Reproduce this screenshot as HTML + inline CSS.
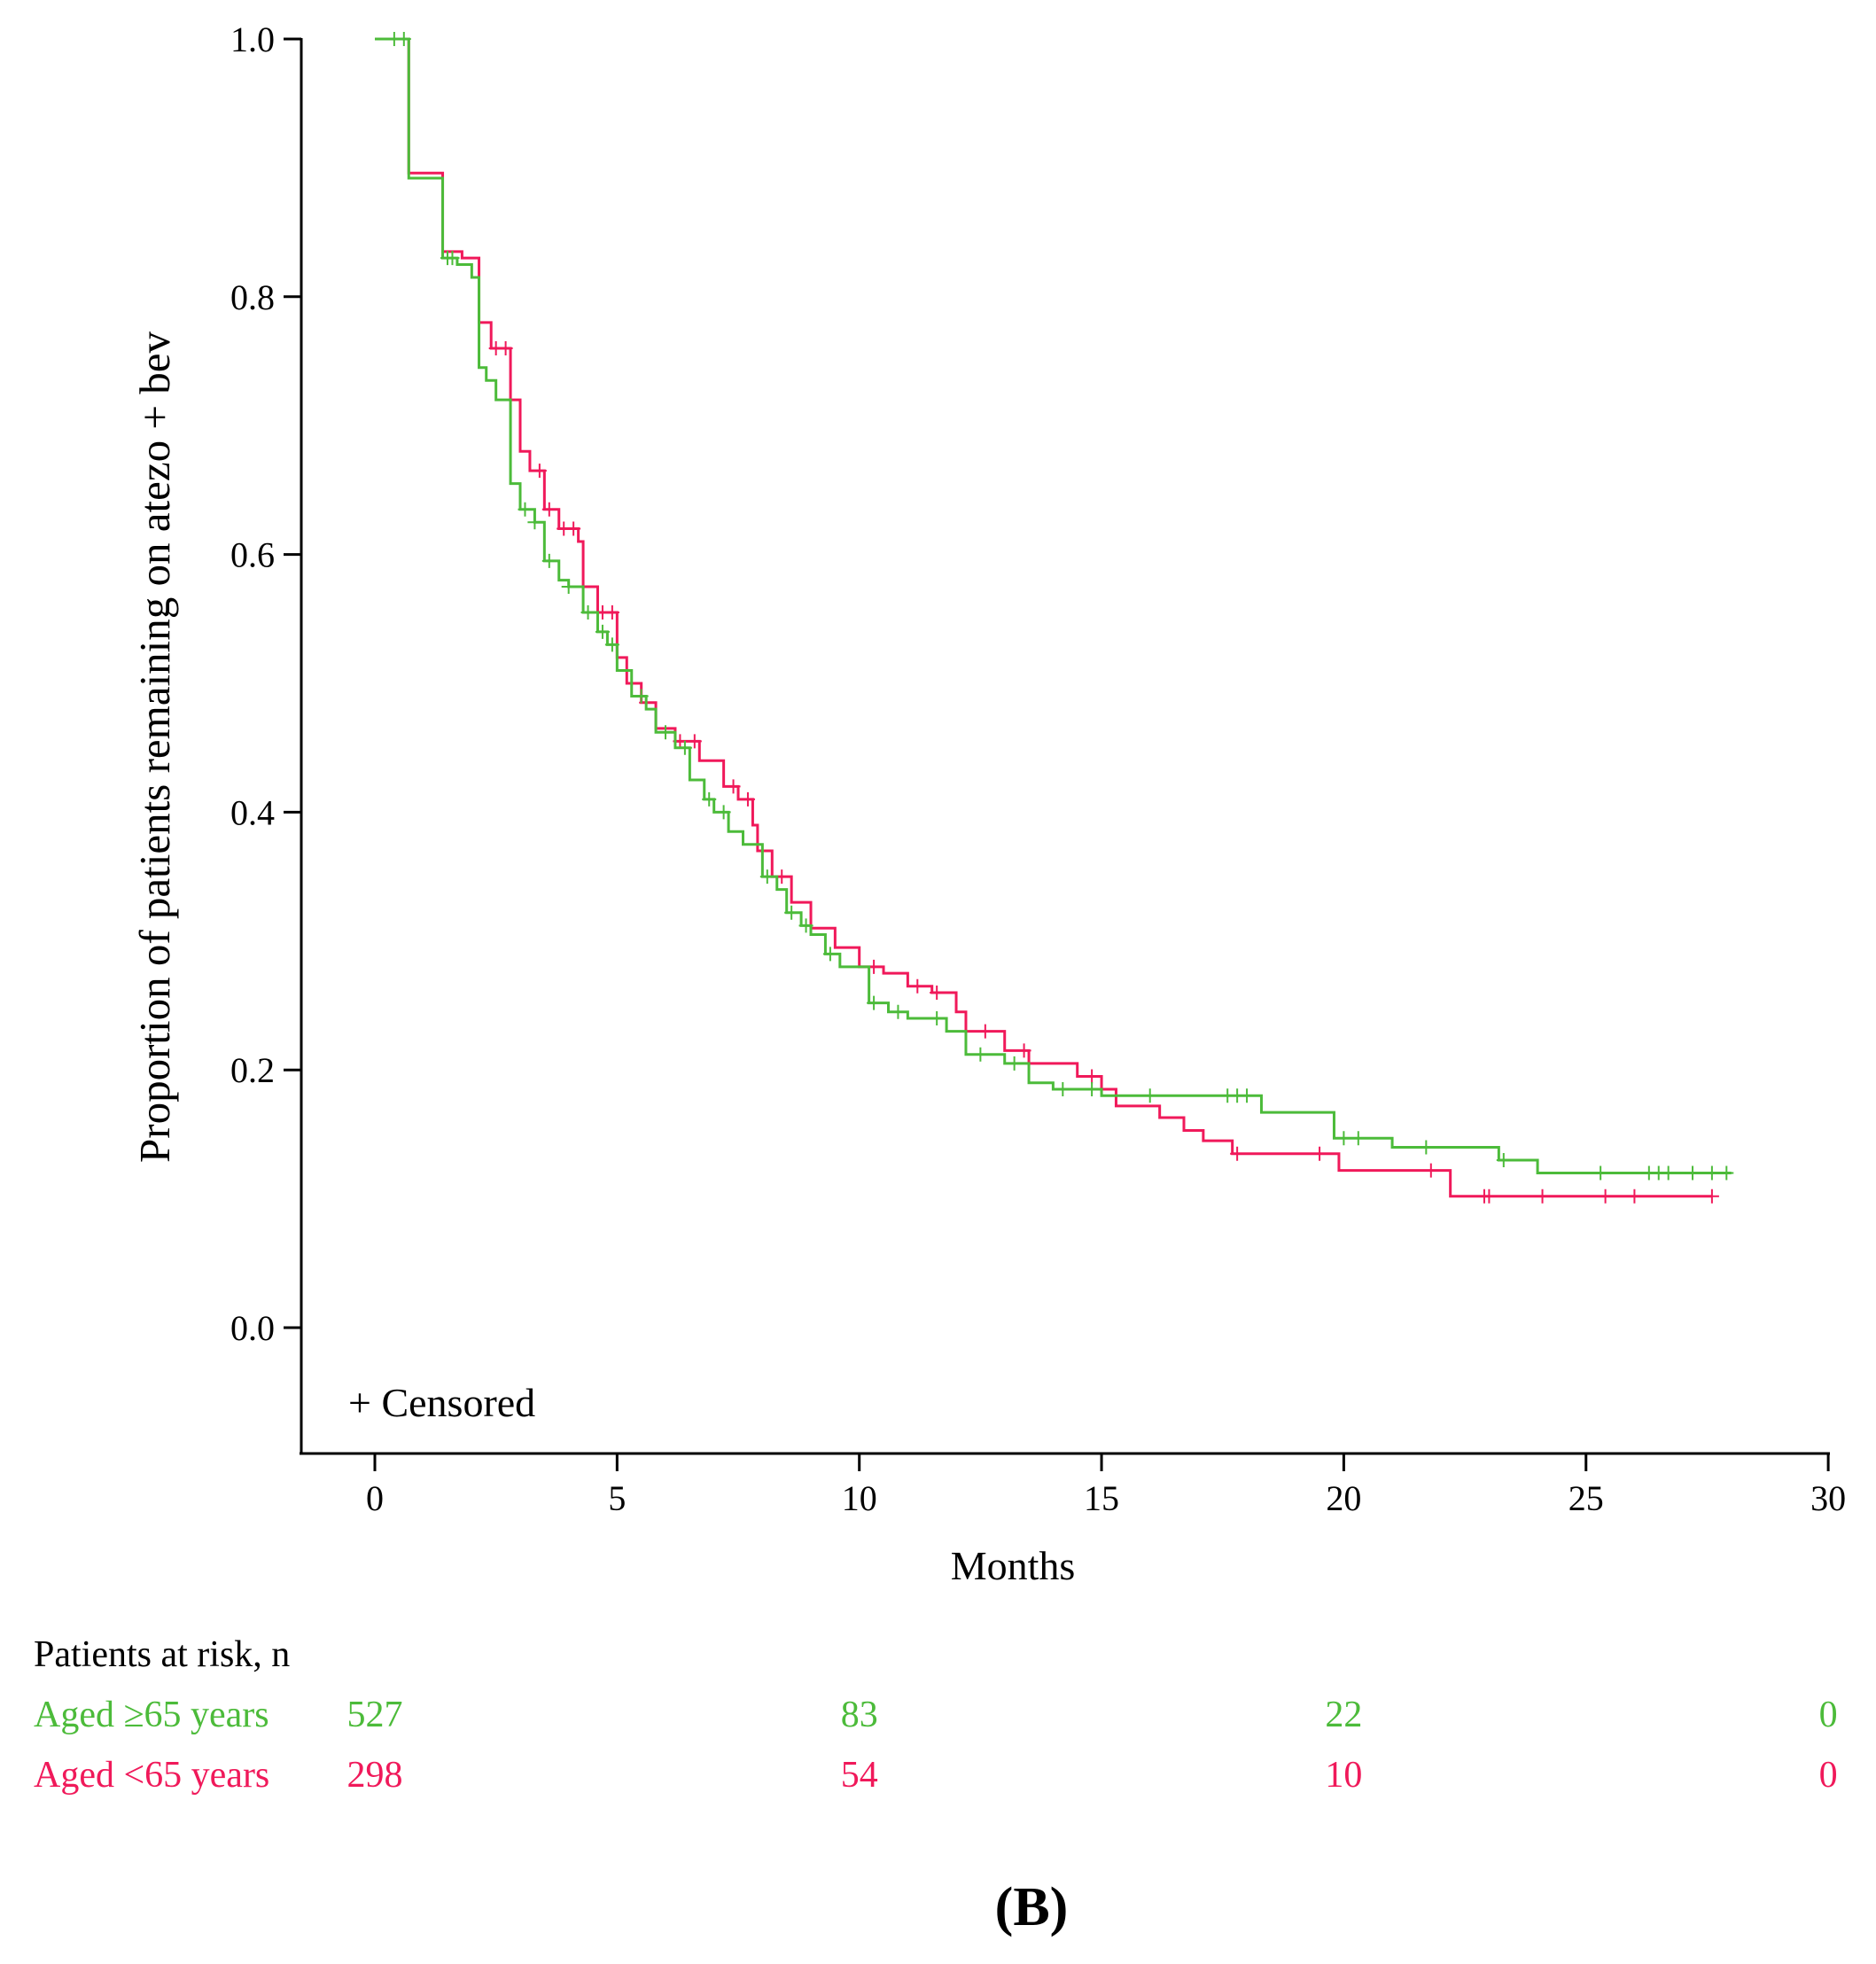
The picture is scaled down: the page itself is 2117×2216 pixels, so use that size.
<!DOCTYPE html>
<html><head><meta charset="utf-8"><style>
body{margin:0;background:#fff;}
svg{display:block;font-family:"Liberation Serif",serif;}
</style></head><body>
<svg id="chart" width="2117" height="2216">
<g id="axes"></g><g id="curves"></g>
<text x="191" y="843" font-size="49" text-anchor="middle" transform="rotate(-90 191 843)">Proportion of patients remaining on atezo + bev</text>
<text x="1143" y="1782" font-size="46" text-anchor="middle">Months</text>
<text x="393" y="1598" font-size="46">+ Censored</text>
<text x="38" y="1880" font-size="42">Patients at risk, n</text>
<text x="38" y="1948" font-size="42" fill="#4cbb3a">Aged ≥65 years</text>
<text x="38" y="2016" font-size="42" fill="#f0195a">Aged &lt;65 years</text>
<text x="1164" y="2172" font-size="62" font-weight="bold" text-anchor="middle">(B)</text>
</svg>
<script>
const xTicks=[0,5,10,15,20,25,30];
const yTicks=[0.0,0.2,0.4,0.6,0.8,1.0];
const riskTimes=[0,10,20,30];
const riskOld=[527,83,22,0];
const riskYoung=[298,54,10,0];
const gT=[0,0.7,1.4,1.7,2.0,2.15,2.3,2.5,2.8,3.0,3.3,3.5,3.8,4.0,4.3,4.6,4.8,5.0,5.3,5.6,5.8,6.2,6.5,6.8,7.0,7.3,7.6,8.0,8.3,8.5,8.8,9.0,9.3,9.6,10.2,10.6,11.0,11.8,12.2,13.0,13.5,14.0,15.0,18.3,19.8,21.0,23.2,24.0,28.0];
const gS=[1.0,0.892,0.83,0.825,0.815,0.745,0.735,0.72,0.655,0.635,0.625,0.595,0.58,0.575,0.555,0.54,0.53,0.51,0.49,0.48,0.462,0.45,0.425,0.41,0.40,0.385,0.375,0.35,0.34,0.322,0.312,0.305,0.29,0.28,0.252,0.245,0.24,0.23,0.212,0.205,0.19,0.185,0.18,0.167,0.147,0.14,0.13,0.12,0.12];
const rT=[0,0.7,1.4,1.8,2.15,2.4,2.8,3.0,3.2,3.5,3.8,4.2,4.3,4.6,5.0,5.2,5.5,5.8,6.2,6.7,7.2,7.5,7.8,7.9,8.2,8.6,9.0,9.5,10.0,10.5,11.0,11.5,12.0,12.2,13.0,13.5,14.5,15.0,15.3,16.2,16.7,17.1,17.7,19.9,22.2,27.6];
const rS=[1.0,0.896,0.835,0.83,0.78,0.76,0.72,0.68,0.665,0.635,0.62,0.61,0.575,0.555,0.52,0.50,0.485,0.465,0.455,0.44,0.42,0.41,0.39,0.37,0.35,0.33,0.31,0.295,0.28,0.275,0.265,0.26,0.245,0.23,0.215,0.205,0.195,0.185,0.172,0.163,0.153,0.145,0.135,0.122,0.102,0.102];
const gCens=[0.4,0.6,1.5,1.6,3.1,3.3,3.6,4.0,4.4,4.7,4.9,5.5,6.0,6.4,6.9,7.2,8.1,8.6,8.9,9.4,10.3,10.8,11.6,12.5,13.2,14.2,14.8,16.0,17.6,17.8,18.0,20.0,20.3,21.7,23.3,25.3,26.3,26.5,26.7,27.2,27.6,27.9];
const rCens=[2.5,2.7,3.4,3.6,3.9,4.1,4.7,4.9,5.6,6.3,6.6,7.4,7.7,8.4,10.3,11.2,11.6,12.6,13.4,14.8,17.8,19.5,21.8,22.9,23.0,24.1,25.4,26.0,27.6];
const X=v=>423+v*54.67, Y=v=>1498-v*1454;
const NS="http://www.w3.org/2000/svg";
function mk(p,tag,a){const e=document.createElementNS(NS,tag);for(const k in a)e.setAttribute(k,a[k]);p.appendChild(e);return e;}
const ax=document.getElementById('axes'), cv=document.getElementById('curves');
let e=mk(ax,'line',{x1:340,y1:43,x2:340,y2:1641,stroke:'#000','stroke-width':3});

e=mk(ax,'line',{x1:338,y1:1640,x2:2065,y2:1640,stroke:'#000','stroke-width':3});

yTicks.forEach(v=>{const y=Y(v);
 let t=mk(ax,'line',{x1:320,y1:y,x2:340,y2:y,stroke:'#000','stroke-width':3});
 
 t=mk(ax,'text',{x:310,y:y+14,'font-size':40,'text-anchor':'end'});t.textContent=v.toFixed(1);
 });
xTicks.forEach(v=>{const x=X(v);
 let t=mk(ax,'line',{x1:x,y1:1640,x2:x,y2:1660,stroke:'#000','stroke-width':3});
 
 t=mk(ax,'text',{x:x,y:1704,'font-size':40,'text-anchor':'middle'});t.textContent=v;
 });
riskTimes.forEach((v,i)=>{
 let t=mk(ax,'text',{x:X(v),y:1948,'font-size':42,'text-anchor':'middle',fill:'#4cbb3a'});t.textContent=riskOld[i];
 
 t=mk(ax,'text',{x:X(v),y:2016,'font-size':42,'text-anchor':'middle',fill:'#f0195a'});t.textContent=riskYoung[i];
 });
function stepAt(T,S,t){let s=S[0];for(let i=0;i<T.length;i++){if(T[i]<=t)s=S[i];}return s;}
function draw(T,S,C,col,name){
 let d='M'+X(T[0])+' '+Y(S[0]);
 for(let i=1;i<T.length;i++){d+=' H'+X(T[i])+' V'+Y(S[i]);}
 let p=mk(cv,'path',{d:d,fill:'none',stroke:col,'stroke-width':3});
 
 C.forEach(t=>{const x=X(t),y=Y(stepAt(T,S,t));
  let m=mk(cv,'path',{d:`M${x-8} ${y}H${x+8}M${x} ${y-8}V${y+8}`,stroke:col,'stroke-width':2});
  });
}
draw(rT,rS,rCens,'#f0195a','under65');
draw(gT,gS,gCens,'#4cbb3a','65plus');
</script>
</body></html>
